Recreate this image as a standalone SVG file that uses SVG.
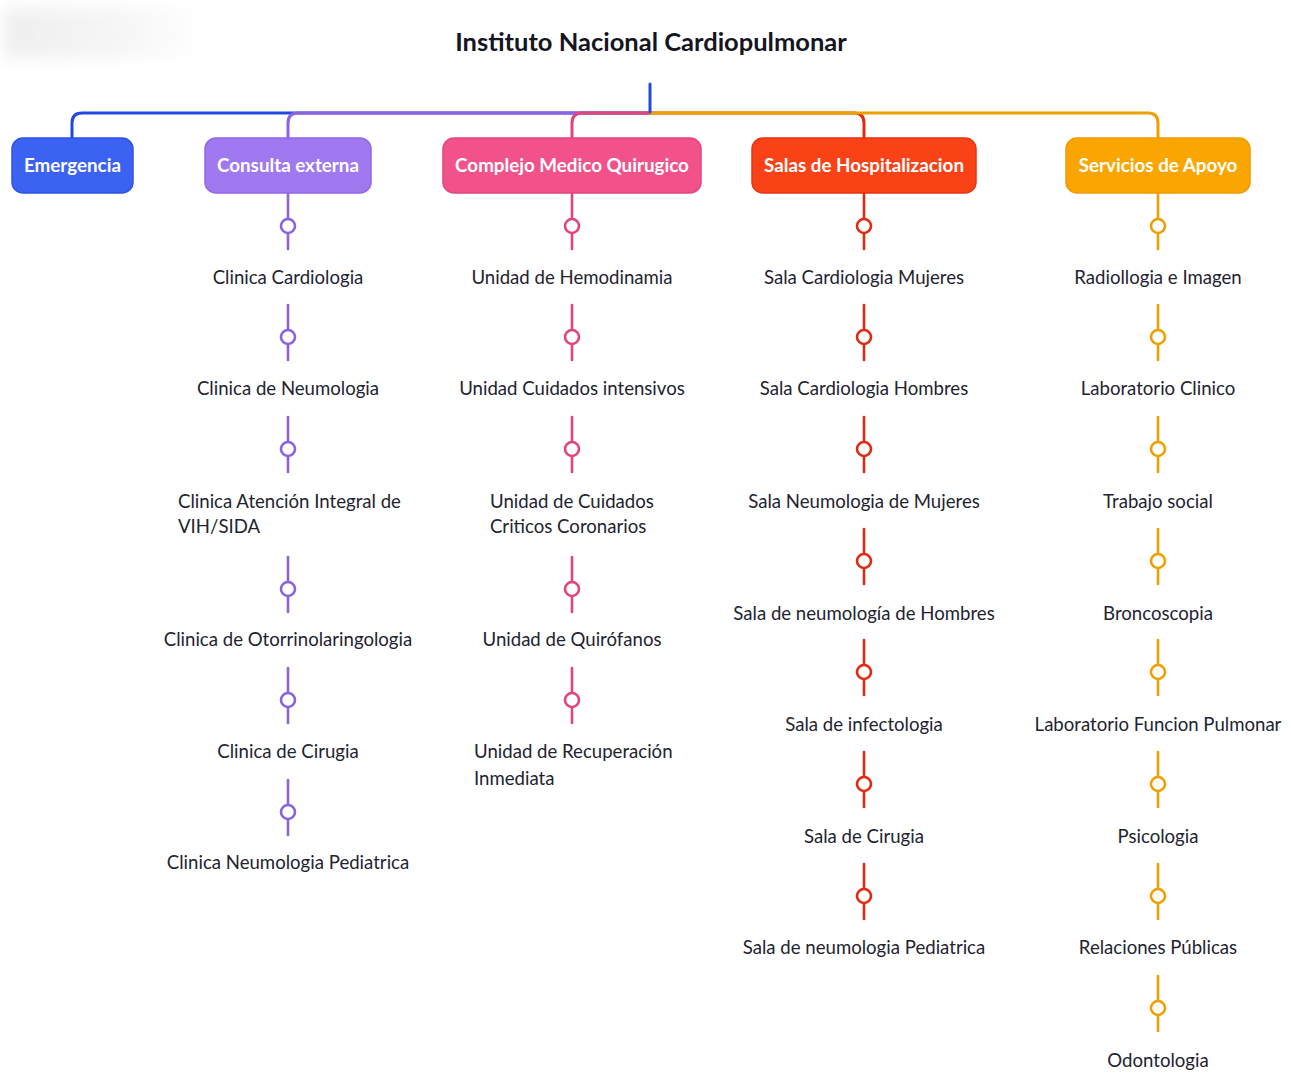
<svg xmlns="http://www.w3.org/2000/svg" xmlns:xlink="http://www.w3.org/1999/xlink" width="1291" height="1075" viewBox="0 0 1291 1075">
<style>
.bus{fill:none;stroke-width:3;stroke-linecap:round;stroke-linejoin:round}
.box{stroke-width:1.5}
.bt{font-family:Lato,"Liberation Sans",sans-serif;font-weight:bold;font-size:18.8px;fill:#ffffff;text-anchor:middle}
.it{font-family:Lato,"Liberation Sans",sans-serif;font-size:18.6px;fill:#23232f}
.mid{text-anchor:middle}
.title{font-family:Lato,"Liberation Sans",sans-serif;font-weight:bold;font-size:25.5px;fill:#15151f;text-anchor:middle}
.cb{color:#2447e0}.cp{color:#8b62e2}.ck{color:#e0457c}.cr{color:#e02a12}.co{color:#eda000}
</style>
<defs>
<g id="conn" fill="#ffffff" stroke="currentColor" stroke-width="2.6" stroke-linecap="round">
<line x1="0" y1="0" x2="0" y2="25"/>
<line x1="0" y1="39" x2="0" y2="55"/>
<circle cx="0" cy="32" r="7"/>
</g>
<linearGradient id="shade" x1="0" y1="0" x2="1" y2="0">
<stop offset="0" stop-color="#efefef"/>
<stop offset="0.55" stop-color="#f5f5f5"/>
<stop offset="1" stop-color="#ffffff"/>
</linearGradient>
<filter id="blur" x="-20%" y="-50%" width="140%" height="200%"><feGaussianBlur stdDeviation="8"/></filter>
</defs>
<rect width="1291" height="1075" fill="#ffffff"/>
<rect x="4" y="8" width="200" height="50" fill="url(#shade)" filter="url(#blur)"/>

<g id="title"><text class="title" x="651" y="51">Instituto Nacional Cardiopulmonar</text></g>

<g id="connectors">
<path class="bus" stroke="#2447e0" d="M650,113 H82 Q72,113 72,123 V138"/>
<path class="bus" stroke="#8b62e2" d="M650,113 H298 Q288,113 288,123 V138"/>
<path class="bus" stroke="#e0457c" d="M650,113 H582 Q572,113 572,123 V138"/>
<path class="bus" stroke="#e02a12" d="M650,113 H854 Q864,113 864,123 V138"/>
<path class="bus" stroke="#eda000" d="M650,113 H1148 Q1158,113 1158,123 V138"/>
<path class="bus" stroke="#2447e0" d="M650,84 V112"/>
<!-- purple -->
<use xlink:href="#conn" class="cp" x="288" y="194"/>
<use xlink:href="#conn" class="cp" x="288" y="305"/>
<use xlink:href="#conn" class="cp" x="288" y="417"/>
<use xlink:href="#conn" class="cp" x="288" y="557"/>
<use xlink:href="#conn" class="cp" x="288" y="668"/>
<use xlink:href="#conn" class="cp" x="288" y="780"/>
<!-- pink -->
<use xlink:href="#conn" class="ck" x="572" y="194"/>
<use xlink:href="#conn" class="ck" x="572" y="305"/>
<use xlink:href="#conn" class="ck" x="572" y="417"/>
<use xlink:href="#conn" class="ck" x="572" y="557"/>
<use xlink:href="#conn" class="ck" x="572" y="668"/>
<!-- red -->
<use xlink:href="#conn" class="cr" x="864" y="194"/>
<use xlink:href="#conn" class="cr" x="864" y="305"/>
<use xlink:href="#conn" class="cr" x="864" y="417"/>
<use xlink:href="#conn" class="cr" x="864" y="529"/>
<use xlink:href="#conn" class="cr" x="864" y="640"/>
<use xlink:href="#conn" class="cr" x="864" y="752"/>
<use xlink:href="#conn" class="cr" x="864" y="864"/>
<!-- orange -->
<use xlink:href="#conn" class="co" x="1158" y="194"/>
<use xlink:href="#conn" class="co" x="1158" y="305"/>
<use xlink:href="#conn" class="co" x="1158" y="417"/>
<use xlink:href="#conn" class="co" x="1158" y="529"/>
<use xlink:href="#conn" class="co" x="1158" y="640"/>
<use xlink:href="#conn" class="co" x="1158" y="752"/>
<use xlink:href="#conn" class="co" x="1158" y="864"/>
<use xlink:href="#conn" class="co" x="1158" y="976"/>
</g>

<g id="emergencia"><rect class="box" x="12" y="138" width="121" height="55" rx="11" fill="#3b62f3" stroke="#2e52e6"/><text class="bt" x="72.5" y="172">Emergencia</text></g>
<g id="consulta"><rect class="box" x="205" y="138" width="166" height="55" rx="11" fill="#a078ef" stroke="#9166e6"/><text class="bt" x="288" y="172">Consulta externa</text></g>
<g id="complejo"><rect class="box" x="443" y="138" width="258" height="55" rx="11" fill="#f2528a" stroke="#e4457d"/><text class="bt" x="572" y="172">Complejo Medico Quirugico</text></g>
<g id="salas"><rect class="box" x="752" y="138" width="224" height="55" rx="11" fill="#fa4217" stroke="#e93210"/><text class="bt" x="864" y="172">Salas de Hospitalizacion</text></g>
<g id="servicios"><rect class="box" x="1066" y="138" width="184" height="55" rx="11" fill="#fba600" stroke="#f09c00"/><text class="bt" x="1158" y="172">Servicios de Apoyo</text></g>

<g id="consulta-items">
<g id="c1"><text class="it mid" x="288" y="284">Clinica Cardiologia</text></g>
<g id="c2"><text class="it mid" x="288" y="395">Clinica de Neumologia</text></g>
<g id="c3"><text class="it" x="178" y="508">Clinica Atención Integral de</text><text class="it" x="178" y="533">VIH/SIDA</text></g>
<g id="c4"><text class="it mid" x="288" y="646">Clinica de Otorrinolaringologia</text></g>
<g id="c5"><text class="it mid" x="288" y="758">Clinica de Cirugia</text></g>
<g id="c6"><text class="it mid" x="288" y="869">Clinica Neumologia Pediatrica</text></g>
</g>
<g id="complejo-items">
<g id="k1"><text class="it mid" x="572" y="284">Unidad de Hemodinamia</text></g>
<g id="k2"><text class="it mid" x="572" y="395">Unidad Cuidados intensivos</text></g>
<g id="k3"><text class="it" x="490" y="508">Unidad de Cuidados</text><text class="it" x="490" y="533">Criticos Coronarios</text></g>
<g id="k4"><text class="it mid" x="572" y="646">Unidad de Quirófanos</text></g>
<g id="k5"><text class="it" x="474" y="758">Unidad de Recuperación</text><text class="it" x="474" y="785">Inmediata</text></g>
</g>
<g id="salas-items">
<g id="s1"><text class="it mid" x="864" y="284">Sala Cardiologia Mujeres</text></g>
<g id="s2"><text class="it mid" x="864" y="395">Sala Cardiologia Hombres</text></g>
<g id="s3"><text class="it mid" x="864" y="508">Sala Neumologia de Mujeres</text></g>
<g id="s4"><text class="it mid" x="864" y="620">Sala de neumología de Hombres</text></g>
<g id="s5"><text class="it mid" x="864" y="731">Sala de infectologia</text></g>
<g id="s6"><text class="it mid" x="864" y="843">Sala de Cirugia</text></g>
<g id="s7"><text class="it mid" x="864" y="954">Sala de neumologia Pediatrica</text></g>
</g>
<g id="servicios-items">
<g id="a1"><text class="it mid" x="1158" y="284">Radiollogia e Imagen</text></g>
<g id="a2"><text class="it mid" x="1158" y="395">Laboratorio Clinico</text></g>
<g id="a3"><text class="it mid" x="1158" y="508">Trabajo social</text></g>
<g id="a4"><text class="it mid" x="1158" y="620">Broncoscopia</text></g>
<g id="a5"><text class="it mid" x="1158" y="731">Laboratorio Funcion Pulmonar</text></g>
<g id="a6"><text class="it mid" x="1158" y="843">Psicologia</text></g>
<g id="a7"><text class="it mid" x="1158" y="954">Relaciones Públicas</text></g>
<g id="a8"><text class="it mid" x="1158" y="1067">Odontologia</text></g>
</g>
</svg>
